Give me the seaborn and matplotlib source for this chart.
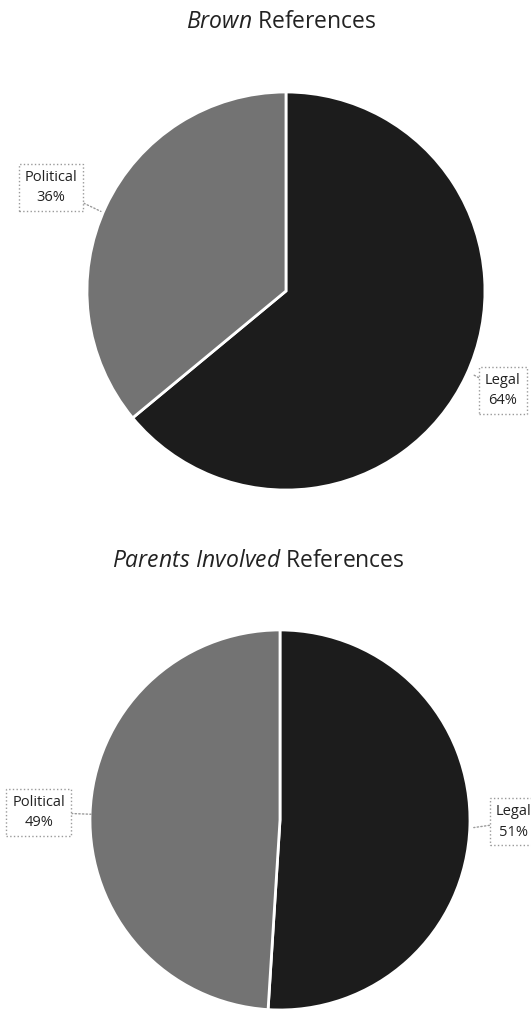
import matplotlib
matplotlib.use("Agg")
import matplotlib.pyplot as plt
import seaborn as sns

# slice data
categories = ["Legal", "Political"]
brown_pct = [64, 36]
parents_pct = [51, 49]
titles = [r"$\it{Brown}$ References", r"$\it{Parents\ Involved}$ References"]

sns.set_theme(style="white")
plt.rcParams['font.family'] = ['Open Sans', 'DejaVu Sans']
plt.rcParams['mathtext.fontset'] = 'custom'
plt.rcParams['mathtext.rm'] = 'Open Sans'
plt.rcParams['mathtext.it'] = 'Open Sans:italic'

colors = ["#1c1c1c", "#737373"]

fig = plt.figure(figsize=(5.31, 10.11), dpi=100)
fig.patch.set_facecolor("white")

# axes boxes in figure fractions: top pie and bottom pie
ax1 = fig.add_axes([0.1638, 0.5153, 0.7495, 0.3937])
ax2 = fig.add_axes([0.1695, 0.001, 0.7156, 0.3759])


def draw_pie(ax, values, label_pos):
    ax.pie(values, colors=colors, startangle=90, counterclock=False,
           wedgeprops=dict(edgecolor="white", linewidth=2))
    ax.set_xlim(-1, 1)
    ax.set_ylim(-1, 1)
    ax.set_aspect("auto")
    ax.axis("off")
    for cat, val, (tx, ty, px, py) in zip(categories, values, label_pos):
        ax.annotate(f"{cat}\n{val}%", xy=(px, py), xytext=(tx, ty),
                    ha="center", va="center", fontsize=10.5, color="#222222",
                    annotation_clip=False, linespacing=1.5,
                    bbox=dict(boxstyle="square,pad=0.4", fc="white",
                              ec="#9a9a9a", ls=":", lw=1),
                    arrowprops=dict(arrowstyle="-", color="#9a9a9a",
                                    ls=":", lw=1, shrinkA=0, shrinkB=0))


draw_pie(ax1, brown_pct, [(1.09, -0.50, 0.94, -0.42), (-1.18, 0.52, -0.93, 0.40)])
draw_pie(ax2, parents_pct, [(1.23, -0.01, 1.02, -0.04), (-1.27, 0.04, -0.99, 0.03)])

fig.text(281 / 531, 1 - 22 / 1011, titles[0], ha="center", va="center", fontsize=16.5, color="#222222")
fig.text(258 / 531, 1 - 561 / 1011, titles[1], ha="center", va="center", fontsize=16.5, color="#222222")

fig.savefig("out.png", dpi=100, facecolor="white")
